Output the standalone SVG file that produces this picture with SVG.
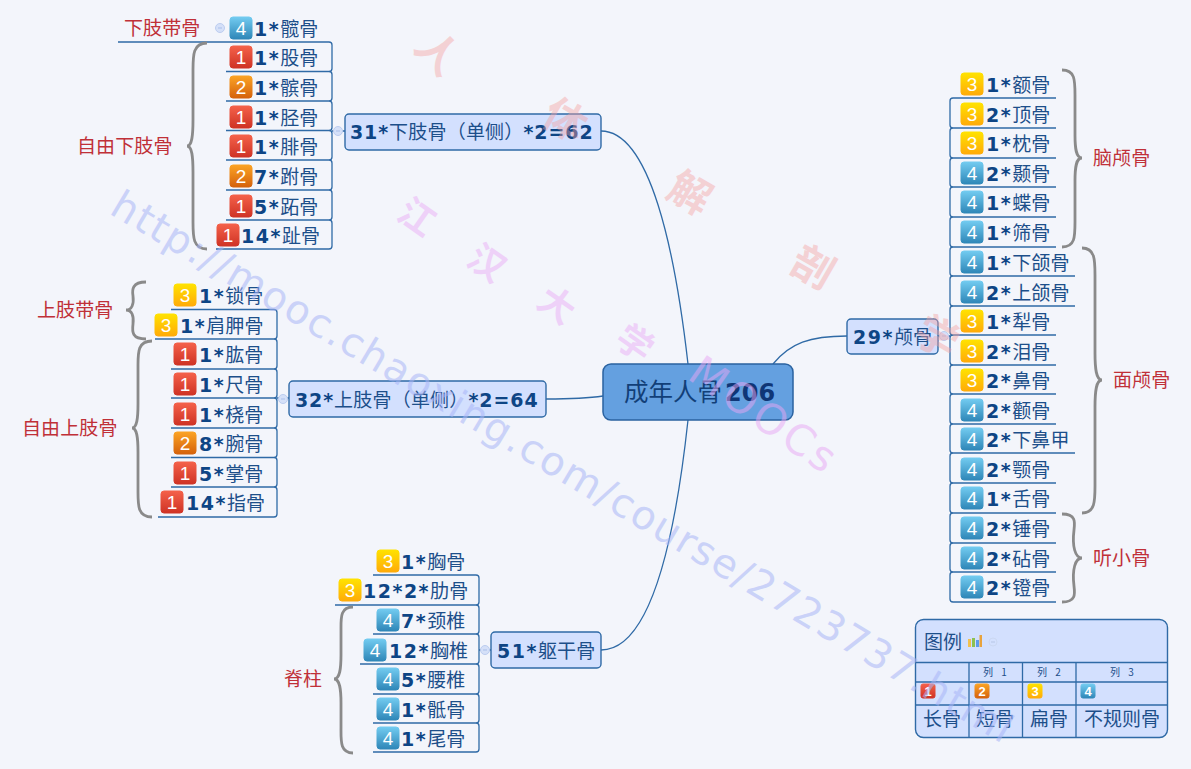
<svg xmlns="http://www.w3.org/2000/svg" width="1191" height="769" viewBox="0 0 1191 769">
<style>
text{font-family:"Noto Sans CJK SC","DejaVu Sans",sans-serif}
.t{font-size:19px;letter-spacing:.2px;fill:#1d4f8a}
.t tspan{font-family:"DejaVu Sans","Noto Sans CJK SC",sans-serif;font-weight:700;font-size:19px;letter-spacing:1.500px;fill:#0e4585}
.t.k tspan{letter-spacing:.9px}
.r{font-size:19px;letter-spacing:.1px;fill:#c03038}
.d{font-family:"Liberation Sans",sans-serif;font-size:19px;fill:#fff;text-anchor:middle}
.ds{font-family:"Liberation Sans",sans-serif;font-size:13px;font-weight:700;fill:#fff;text-anchor:middle}
.i{stroke-width:1}
.i1{fill:url(#g1);stroke:url(#g1)}.i2{fill:url(#g2);stroke:url(#g2)}.i3{fill:url(#g3);stroke:url(#g3)}.i4{fill:url(#g4);stroke:url(#g4)}
.box{fill:#d3e0fe;stroke:#2f6aa6;stroke-width:1.400}
.l{fill:none;stroke:#2f6aa6;stroke-width:1.300}
.b{fill:none;stroke:#8a8a8a;stroke-width:2.800}
.o{fill:#d5e0f8;stroke:#bccdf0;stroke-width:1}
.m{fill:none;stroke:#a9bfea;stroke-width:1}
.leg{font-size:19px;fill:#1d4f8a;text-anchor:middle}
.sm{font-size:10px;fill:#1d4f8a;text-anchor:middle;word-spacing:6px}
.wr{fill:#f5a0a0;opacity:.42;font-size:42px;font-weight:700}
.wp{fill:#e9a6f5;opacity:.45;font-size:36px;font-weight:700}
.wb{font-family:"DejaVu Sans",sans-serif;fill:#a9b6f7;opacity:.55}
.wm{font-family:"DejaVu Sans",sans-serif;fill:#e9a6f5;opacity:.5}
</style>
<defs>
<linearGradient id="g1" x1="0" y1="0" x2="0" y2="1"><stop offset="0" stop-color="#f4614a"/><stop offset="1" stop-color="#cf3325"/></linearGradient>
<linearGradient id="g2" x1="0" y1="0" x2="0" y2="1"><stop offset="0" stop-color="#fba324"/><stop offset="1" stop-color="#d5620c"/></linearGradient>
<linearGradient id="g3" x1="0" y1="0" x2="0" y2="1"><stop offset="0" stop-color="#ffe200"/><stop offset="1" stop-color="#ffab08"/></linearGradient>
<linearGradient id="g4" x1="0" y1="0" x2="0" y2="1"><stop offset="0" stop-color="#72cbf0"/><stop offset="1" stop-color="#2f87b8"/></linearGradient>
</defs>
<rect width="1191" height="769" fill="#f3f5fb"/>

<g id="connectors">
<path class="l" d="M601 131C650 131 675 250 688 364M601 650C650 650 675 540 688 420M546 399C570 399 590 398 603 396M847 336C810 336 790 343 773 364"/>
<path class="l" d="M332 131H345M277 398H289M479 650H491M938 336H950"/>
<path class="l" d="M118 42H329Q332 42 332 45V68.500Q332 71.500 329 71.500H226M329 71.500Q332 71.500 332 74.500V98Q332 101 329 101H226M329 101Q332 101 332 104V127.500Q332 130.500 329 130.500H226M329 130.500Q332 130.500 332 133.500V157Q332 160 329 160H226M329 160Q332 160 332 163V187Q332 190 329 190H226M329 190Q332 190 332 193V217Q332 220 329 220H226M329 220Q332 220 332 223V246Q332 249 329 249H216"/>
<path class="l" d="M171 309.500H274Q277 309.500 277 312.500V336Q277 339 274 339H155M274 339Q277 339 277 342V366Q277 369 274 369H171M274 369Q277 369 277 372V395Q277 398 274 398H171M274 398Q277 398 277 401V425Q277 428 274 428H171M274 428Q277 428 277 431V454.500Q277 457.500 274 457.500H171M274 457.500Q277 457.500 277 460.500V484Q277 487 274 487H171M274 487Q277 487 277 490V514Q277 517 274 517H158"/>
<path class="l" d="M373 575H476Q479 575 479 578V602Q479 605 476 605H335M476 605Q479 605 479 608V631Q479 634 476 634H373M476 634Q479 634 479 637V661Q479 664 476 664H360M476 664Q479 664 479 667V691Q479 694 476 694H373M476 694Q479 694 479 697V720Q479 723 476 723H373M476 723Q479 723 479 726V749Q479 752 476 752H373"/>
<path class="l" d="M1056 98H953Q950 98 950 101V125Q950 128 953 128H1056M953 128Q950 128 950 131V155Q950 158 953 158H1056M953 158Q950 158 950 161V184Q950 187 953 187H1056M953 187Q950 187 950 190V214Q950 217 953 217H1056M953 217Q950 217 950 220V244Q950 247 953 247H1056M953 247Q950 247 950 250V273Q950 276 953 276H1075M953 276Q950 276 950 279V303Q950 306 953 306H1075M953 306Q950 306 950 309V332Q950 335 953 335H1056M953 335Q950 335 950 338V362Q950 365 953 365H1056M953 365Q950 365 950 368V391Q950 394 953 394H1056M953 394Q950 394 950 397V421Q950 424 953 424H1056M953 424Q950 424 950 427V450Q950 453 953 453H1075M953 453Q950 453 950 456V480Q950 483 953 483H1056M953 483Q950 483 950 486V510Q950 513 953 513H1056M953 513Q950 513 950 516V540Q950 543 953 543H1056M953 543Q950 543 950 546V569Q950 572 953 572H1056M953 572Q950 572 950 575V599Q950 602 953 602H1056"/>
<circle class="o" cx="220" cy="28" r="4.500"/><circle class="o" cx="338" cy="131" r="4.500"/><circle class="o" cx="283" cy="399" r="4.500"/><circle class="o" cx="485" cy="650" r="4.500"/><circle class="o" cx="944" cy="336" r="4.500"/>
<path class="m" d="M218 28H222M336 131H340M281 399H285M483 650H487M942 336H946"/>
<path class="b" d="M207 43C193 43 193 55 193 70V120C193 135 192 146 187 146C192 146 193 157 193 172V222C193 237 193 249 207 249"/>
<path class="b" d="M146 282C132 282 132 290 133 296C134 304 132 310 126 310C132 310 134 316 133 324C132 332 132 339 146 339"/>
<path class="b" d="M152 341C138 341 138 352 138 365V404C138 418 137 428 132 428C137 428 138 438 138 452V492C138 506 138 517 152 517"/>
<path class="b" d="M353 607C340 607 341 618 341 630V655C341 668 340 679 334 679C340 679 341 690 341 703V728C341 741 340 753 353 753"/>
<path class="b" d="M1062 70C1075 70 1075 80 1075 95V135C1075 149 1076 158 1082 158C1076 158 1075 167 1075 181V222C1075 237 1075 247 1062 247"/>
<path class="b" d="M1082 248C1095 248 1095 260 1095 275V353C1095 368 1096 380 1102 380C1096 380 1095 392 1095 407V486C1095 501 1095 513 1082 513"/>
<path class="b" d="M1062 514C1076 514 1075 522 1074 530C1072 546 1075 558 1082 558C1075 558 1072 570 1074 586C1075 594 1076 602 1062 602"/>
</g>

<g id="root"><rect x="603" y="364" width="190" height="56" rx="8" fill="#64a0e0" stroke="#2a62a0" stroke-width="1.500"/><text x="624" y="401" font-size="24.500" fill="#123f78">成年人骨<tspan font-family="DejaVu Sans" font-weight="700" fill="#0f3676" font-size="24" dx="3">206</tspan></text></g>
<g id="lower"><rect class="box" x="345" y="114" width="256" height="36" rx="4"/><text class="t k" x="350" y="139"><tspan>31*</tspan>下肢骨（单侧）<tspan>*2=62</tspan></text></g>
<g id="upper"><rect class="box" x="289" y="381" width="257" height="36" rx="4"/><text class="t k" x="295" y="407"><tspan>32*</tspan>上肢骨（单侧）<tspan>*2=64</tspan></text></g>
<g id="trunk"><rect class="box" x="491" y="632" width="110" height="36" rx="4"/><text class="t" x="497" y="658"><tspan>51*</tspan>躯干骨</text></g>
<g id="skull"><rect class="box" x="847" y="319" width="91" height="35" rx="4"/><text class="t" x="853" y="344"><tspan>29*</tspan>颅骨</text></g>

<g id="lab-xzdg"><text class="r" x="124" y="35">下肢带骨</text></g>
<g id="lab-zyxz"><text class="r" x="77" y="153">自由下肢骨</text></g>
<g id="lab-szdg"><text class="r" x="37" y="317">上肢带骨</text></g>
<g id="lab-zysz"><text class="r" x="22" y="435">自由上肢骨</text></g>
<g id="lab-jz"><text class="r" x="284" y="686">脊柱</text></g>
<g id="lab-nlg"><text class="r" x="1093" y="165">脑颅骨</text></g>
<g id="lab-mlg"><text class="r" x="1113" y="387">面颅骨</text></g>
<g id="lab-txg"><text class="r" x="1093" y="565">听小骨</text></g>

<g id="n1"><rect class="i i4" x="230" y="17" width="22" height="22" rx="3"/><text class="d" x="241" y="35">4</text><text class="t" x="254" y="36"><tspan>1*</tspan>髋骨</text></g>
<g id="n2"><rect class="i i1" x="230" y="46" width="22" height="22" rx="3"/><text class="d" x="241" y="64">1</text><text class="t" x="254" y="65"><tspan>1*</tspan>股骨</text></g>
<g id="n3"><rect class="i i2" x="230" y="76" width="22" height="22" rx="3"/><text class="d" x="241" y="94">2</text><text class="t" x="254" y="95"><tspan>1*</tspan>髌骨</text></g>
<g id="n4"><rect class="i i1" x="230" y="106" width="22" height="22" rx="3"/><text class="d" x="241" y="124">1</text><text class="t" x="254" y="125"><tspan>1*</tspan>胫骨</text></g>
<g id="n5"><rect class="i i1" x="230" y="135" width="22" height="22" rx="3"/><text class="d" x="241" y="153">1</text><text class="t" x="254" y="154"><tspan>1*</tspan>腓骨</text></g>
<g id="n6"><rect class="i i2" x="230" y="165" width="22" height="22" rx="3"/><text class="d" x="241" y="183">2</text><text class="t" x="254" y="184"><tspan>7*</tspan>跗骨</text></g>
<g id="n7"><rect class="i i1" x="230" y="195" width="22" height="22" rx="3"/><text class="d" x="241" y="213">1</text><text class="t" x="254" y="214"><tspan>5*</tspan>跖骨</text></g>
<g id="n8"><rect class="i i1" x="217" y="224" width="22" height="22" rx="3"/><text class="d" x="228" y="242">1</text><text class="t" x="241" y="243"><tspan>14*</tspan>趾骨</text></g>

<g id="n9"><rect class="i i3" x="174" y="284" width="22" height="22" rx="3"/><text class="d" x="185" y="302">3</text><text class="t" x="199" y="303"><tspan>1*</tspan>锁骨</text></g>
<g id="n10"><rect class="i i3" x="155" y="314" width="22" height="22" rx="3"/><text class="d" x="166" y="332">3</text><text class="t" x="180" y="333"><tspan>1*</tspan>肩胛骨</text></g>
<g id="n11"><rect class="i i1" x="174" y="343" width="22" height="22" rx="3"/><text class="d" x="185" y="361">1</text><text class="t" x="199" y="362"><tspan>1*</tspan>肱骨</text></g>
<g id="n12"><rect class="i i1" x="174" y="373" width="22" height="22" rx="3"/><text class="d" x="185" y="391">1</text><text class="t" x="199" y="392"><tspan>1*</tspan>尺骨</text></g>
<g id="n13"><rect class="i i1" x="174" y="403" width="22" height="22" rx="3"/><text class="d" x="185" y="421">1</text><text class="t" x="199" y="422"><tspan>1*</tspan>桡骨</text></g>
<g id="n14"><rect class="i i2" x="174" y="432" width="22" height="22" rx="3"/><text class="d" x="185" y="450">2</text><text class="t" x="199" y="451"><tspan>8*</tspan>腕骨</text></g>
<g id="n15"><rect class="i i1" x="174" y="462" width="22" height="22" rx="3"/><text class="d" x="185" y="480">1</text><text class="t" x="199" y="481"><tspan>5*</tspan>掌骨</text></g>
<g id="n16"><rect class="i i1" x="161" y="491" width="22" height="22" rx="3"/><text class="d" x="172" y="509">1</text><text class="t" x="186" y="510"><tspan>14*</tspan>指骨</text></g>

<g id="n17"><rect class="i i3" x="377" y="550" width="22" height="22" rx="3"/><text class="d" x="388" y="568">3</text><text class="t" x="401" y="569"><tspan>1*</tspan>胸骨</text></g>
<g id="n18"><rect class="i i3" x="339" y="579" width="22" height="22" rx="3"/><text class="d" x="350" y="597">3</text><text class="t" x="363" y="598"><tspan>12*2*</tspan>肋骨</text></g>
<g id="n19"><rect class="i i4" x="377" y="609" width="22" height="22" rx="3"/><text class="d" x="388" y="627">4</text><text class="t" x="401" y="628"><tspan>7*</tspan>颈椎</text></g>
<g id="n20"><rect class="i i4" x="364" y="639" width="22" height="22" rx="3"/><text class="d" x="375" y="657">4</text><text class="t" x="389" y="658"><tspan>12*</tspan>胸椎</text></g>
<g id="n21"><rect class="i i4" x="377" y="668" width="22" height="22" rx="3"/><text class="d" x="388" y="686">4</text><text class="t" x="401" y="687"><tspan>5*</tspan>腰椎</text></g>
<g id="n22"><rect class="i i4" x="377" y="698" width="22" height="22" rx="3"/><text class="d" x="388" y="716">4</text><text class="t" x="401" y="717"><tspan>1*</tspan>骶骨</text></g>
<g id="n23"><rect class="i i4" x="377" y="727" width="22" height="22" rx="3"/><text class="d" x="388" y="745">4</text><text class="t" x="401" y="746"><tspan>1*</tspan>尾骨</text></g>

<g id="n24"><rect class="i i3" x="961" y="73" width="22" height="22" rx="3"/><text class="d" x="972" y="91">3</text><text class="t" x="986" y="92"><tspan>1*</tspan>额骨</text></g>
<g id="n25"><rect class="i i3" x="961" y="103" width="22" height="22" rx="3"/><text class="d" x="972" y="121">3</text><text class="t" x="986" y="122"><tspan>2*</tspan>顶骨</text></g>
<g id="n26"><rect class="i i3" x="961" y="132" width="22" height="22" rx="3"/><text class="d" x="972" y="150">3</text><text class="t" x="986" y="151"><tspan>1*</tspan>枕骨</text></g>
<g id="n27"><rect class="i i4" x="961" y="162" width="22" height="22" rx="3"/><text class="d" x="972" y="180">4</text><text class="t" x="986" y="181"><tspan>2*</tspan>颞骨</text></g>
<g id="n28"><rect class="i i4" x="961" y="191" width="22" height="22" rx="3"/><text class="d" x="972" y="209">4</text><text class="t" x="986" y="210"><tspan>1*</tspan>蝶骨</text></g>
<g id="n29"><rect class="i i4" x="961" y="221" width="22" height="22" rx="3"/><text class="d" x="972" y="239">4</text><text class="t" x="986" y="240"><tspan>1*</tspan>筛骨</text></g>
<g id="n30"><rect class="i i4" x="961" y="251" width="22" height="22" rx="3"/><text class="d" x="972" y="269">4</text><text class="t" x="986" y="270"><tspan>1*</tspan>下颌骨</text></g>
<g id="n31"><rect class="i i4" x="961" y="281" width="22" height="22" rx="3"/><text class="d" x="972" y="299">4</text><text class="t" x="986" y="300"><tspan>2*</tspan>上颌骨</text></g>
<g id="n32"><rect class="i i3" x="961" y="310" width="22" height="22" rx="3"/><text class="d" x="972" y="328">3</text><text class="t" x="986" y="329"><tspan>1*</tspan>犁骨</text></g>
<g id="n33"><rect class="i i3" x="961" y="340" width="22" height="22" rx="3"/><text class="d" x="972" y="358">3</text><text class="t" x="986" y="359"><tspan>2*</tspan>泪骨</text></g>
<g id="n34"><rect class="i i3" x="961" y="369" width="22" height="22" rx="3"/><text class="d" x="972" y="387">3</text><text class="t" x="986" y="388"><tspan>2*</tspan>鼻骨</text></g>
<g id="n35"><rect class="i i4" x="961" y="399" width="22" height="22" rx="3"/><text class="d" x="972" y="417">4</text><text class="t" x="986" y="418"><tspan>2*</tspan>颧骨</text></g>
<g id="n36"><rect class="i i4" x="961" y="428" width="22" height="22" rx="3"/><text class="d" x="972" y="446">4</text><text class="t" x="986" y="447"><tspan>2*</tspan>下鼻甲</text></g>
<g id="n37"><rect class="i i4" x="961" y="458" width="22" height="22" rx="3"/><text class="d" x="972" y="476">4</text><text class="t" x="986" y="477"><tspan>2*</tspan>颚骨</text></g>
<g id="n38"><rect class="i i4" x="961" y="487" width="22" height="22" rx="3"/><text class="d" x="972" y="505">4</text><text class="t" x="986" y="506"><tspan>1*</tspan>舌骨</text></g>
<g id="n39"><rect class="i i4" x="961" y="517" width="22" height="22" rx="3"/><text class="d" x="972" y="535">4</text><text class="t" x="986" y="536"><tspan>2*</tspan>锤骨</text></g>
<g id="n40"><rect class="i i4" x="961" y="547" width="22" height="22" rx="3"/><text class="d" x="972" y="565">4</text><text class="t" x="986" y="566"><tspan>2*</tspan>砧骨</text></g>
<g id="n41"><rect class="i i4" x="961" y="576" width="22" height="22" rx="3"/><text class="d" x="972" y="594">4</text><text class="t" x="986" y="595"><tspan>2*</tspan>镫骨</text></g>

<g id="legend">
<rect class="box" x="915.500" y="619.500" width="252" height="118" rx="8"/>
<path class="l" d="M916 662.500H1167M916 682H1167M916 705H1167M969 662.500V737M1022.500 662.500V737M1076 662.500V737"/>
<text x="924" y="649" font-size="19" fill="#1d4f8a">图例</text>
<g><rect x="968" y="639" width="3" height="8" fill="#f2c14e"/><rect x="972" y="638" width="3" height="9" fill="#8cc152"/><rect x="976" y="640" width="3" height="7" fill="#5d9cec"/><rect x="979.500" y="635" width="2.500" height="12" fill="#e8a33d"/></g>
<circle cx="993" cy="642" r="4" fill="none" stroke="#cbd8f2" stroke-width="1"/>
<path d="M991 642H995" stroke="#b6c6e6" stroke-width="1"/>
<text class="sm" x="995" y="676">列 1</text><text class="sm" x="1049" y="676">列 2</text><text class="sm" x="1122" y="676">列 3</text>
<rect class="i i1" x="921" y="684" width="14" height="14" rx="2"/><text class="ds" x="928" y="696">1</text>
<rect class="i i2" x="975" y="684" width="14" height="14" rx="2"/><text class="ds" x="982" y="696">2</text>
<rect class="i i3" x="1028" y="684" width="14" height="14" rx="2"/><text class="ds" x="1035" y="696">3</text>
<rect class="i i4" x="1081" y="684" width="14" height="14" rx="2"/><text class="ds" x="1088" y="696">4</text>
<text class="leg" x="942" y="726">长骨</text><text class="leg" x="995" y="726">短骨</text><text class="leg" x="1049" y="726">扁骨</text><text class="leg" x="1122" y="726">不规则骨</text>
</g>

<g id="watermark">
<text class="wb" font-size="40" transform="translate(108,213) rotate(30.700)" textLength="1040" lengthAdjust="spacing">http://mooc.chaoxing.com/course/2723737.html</text>
<text class="wm" font-size="42" transform="translate(686,378) rotate(35)" textLength="168">MOOCs</text>
<text class="wr" transform="translate(438,53) rotate(45)" text-anchor="middle" dy="15">人</text>
<text class="wr" transform="translate(565,120) rotate(30)" text-anchor="middle" dy="15">体</text>
<text class="wr" transform="translate(690,193) rotate(30)" text-anchor="middle" dy="15">解</text>
<text class="wr" transform="translate(813,267) rotate(30)" text-anchor="middle" dy="15">剖</text>
<text class="wr" transform="translate(937,337) rotate(30)" text-anchor="middle" dy="15">学</text>
<text class="wp" transform="translate(417,217) rotate(35)" text-anchor="middle" dy="13">江</text>
<text class="wp" transform="translate(487,263) rotate(35)" text-anchor="middle" dy="13">汉</text>
<text class="wp" transform="translate(557,305) rotate(35)" text-anchor="middle" dy="13">大</text>
<text class="wp" transform="translate(635,343) rotate(35)" text-anchor="middle" dy="13">学</text>
</g>
</svg>
